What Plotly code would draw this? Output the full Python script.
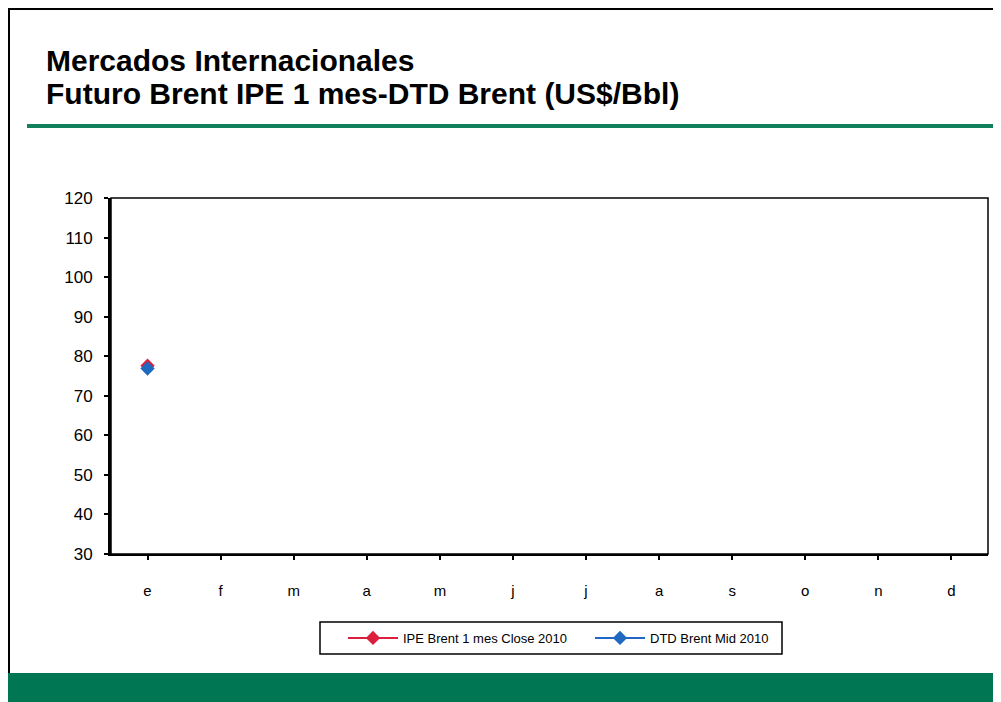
import plotly.graph_objects as go

months = ["e", "f", "m", "a", "m", "j", "j", "a", "s", "o", "n", "d"]
ipe_close_2010 = [77.6] + [None] * 11
dtd_mid_2010 = [76.9] + [None] * 11
y_ticks = [30, 40, 50, 60, 70, 80, 90, 100, 110, 120]

x_idx = list(range(len(months)))

fig = go.Figure()
fig.add_trace(go.Scatter(
    x=x_idx, y=ipe_close_2010, name="IPE Brent 1 mes Close 2010",
    mode="lines+markers", line=dict(color="#DC1F3C", width=2),
    marker=dict(symbol="diamond", size=11, color="#DC1F3C"),
))
fig.add_trace(go.Scatter(
    x=x_idx, y=dtd_mid_2010, name="DTD Brent Mid 2010",
    mode="lines+markers", line=dict(color="#2166C4", width=2),
    marker=dict(symbol="diamond", size=11, color="#1F6AC0"),
))

# the page body has an 8px margin; work in screen coordinates
OFF = 8
W, H = 1001 - OFF, 702 - OFF
PL, PR, PT, PB = 111, 988, 198, 554  # plot area in screen coords
L, R, T, B = PL - OFF, W - (PR - OFF), PT - OFF, H - (PB - OFF)

def px(x):
    return (x - OFF - L) / (W - L - R)

def py(y):
    return (H - B - (y - OFF)) / (H - T - B)

shapes = [
    # slide border
    dict(type="rect", xref="paper", yref="paper", x0=px(9), x1=px(1020), y0=py(690), y1=py(9),
         line=dict(color="black", width=2), fillcolor="rgba(0,0,0,0)", layer="below"),
    # green rule under title
    dict(type="line", xref="paper", yref="paper", x0=px(27), x1=px(993), y0=py(126), y1=py(126),
         line=dict(color="#12805C", width=4)),
    # green footer
    dict(type="rect", xref="paper", yref="paper", x0=px(8), x1=px(1020), y0=py(720), y1=py(673),
         line=dict(width=0), fillcolor="#007752"),
    # plot frame
    dict(type="rect", xref="paper", yref="paper", x0=0, x1=1, y0=0, y1=1,
         line=dict(color="black", width=1.5), layer="below"),
    # legend frame
    dict(type="rect", xref="paper", yref="paper", x0=px(320), x1=px(782), y0=py(654), y1=py(622),
         line=dict(color="black", width=1.5), fillcolor="white", layer="below"),
]

title_font = dict(family="Liberation Sans, Arial, sans-serif", size=30, color="black")
annotations = [
    dict(text="<b>Mercados Internacionales</b>", xref="paper", yref="paper",
         x=px(45), y=py(78), xanchor="left", yanchor="bottom", showarrow=False,
         font=title_font, borderpad=0),
    dict(text="<b>Futuro Brent IPE 1 mes-DTD Brent (US$/Bbl)</b>", xref="paper", yref="paper",
         x=px(45), y=py(111), xanchor="left", yanchor="bottom", showarrow=False,
         font=title_font, borderpad=0),
]

fig.update_layout(
    width=W, height=H,
    margin=dict(l=L, r=R, t=T, b=B),
    paper_bgcolor="white", plot_bgcolor="white",
    font=dict(family="Liberation Sans, Arial, sans-serif", color="black", size=15),
    showlegend=True,
    legend=dict(
        orientation="h", xref="paper", yref="paper",
        x=px(343), y=py(638), xanchor="left", yanchor="middle",
        borderwidth=0, bgcolor="rgba(0,0,0,0)",
        font=dict(size=13, family="Liberation Sans, Arial, sans-serif"),
        itemwidth=50, entrywidth=182, entrywidthmode="pixels", tracegroupgap=0,
    ),
    shapes=shapes,
    annotations=annotations,
    xaxis=dict(
        tickmode="array", tickvals=x_idx, ticktext=months, range=[-0.5, 11.5],
        tickson="boundaries", ticks="outside", ticklen=4, tickcolor="black", tickwidth=1.5,
        showline=True, linecolor="black", linewidth=2, showgrid=False, zeroline=False,
        tickfont=dict(size=15), ticklabelstandoff=18,
    ),
    yaxis=dict(
        tickmode="array", tickvals=y_ticks, range=[30, 120],
        ticks="outside", ticklen=4, tickcolor="black", tickwidth=1.5,
        showline=True, linecolor="black", linewidth=3, showgrid=False, zeroline=False,
        tickfont=dict(size=17), ticklabelstandoff=8,
    ),
)

fig.write_html("out.html")
